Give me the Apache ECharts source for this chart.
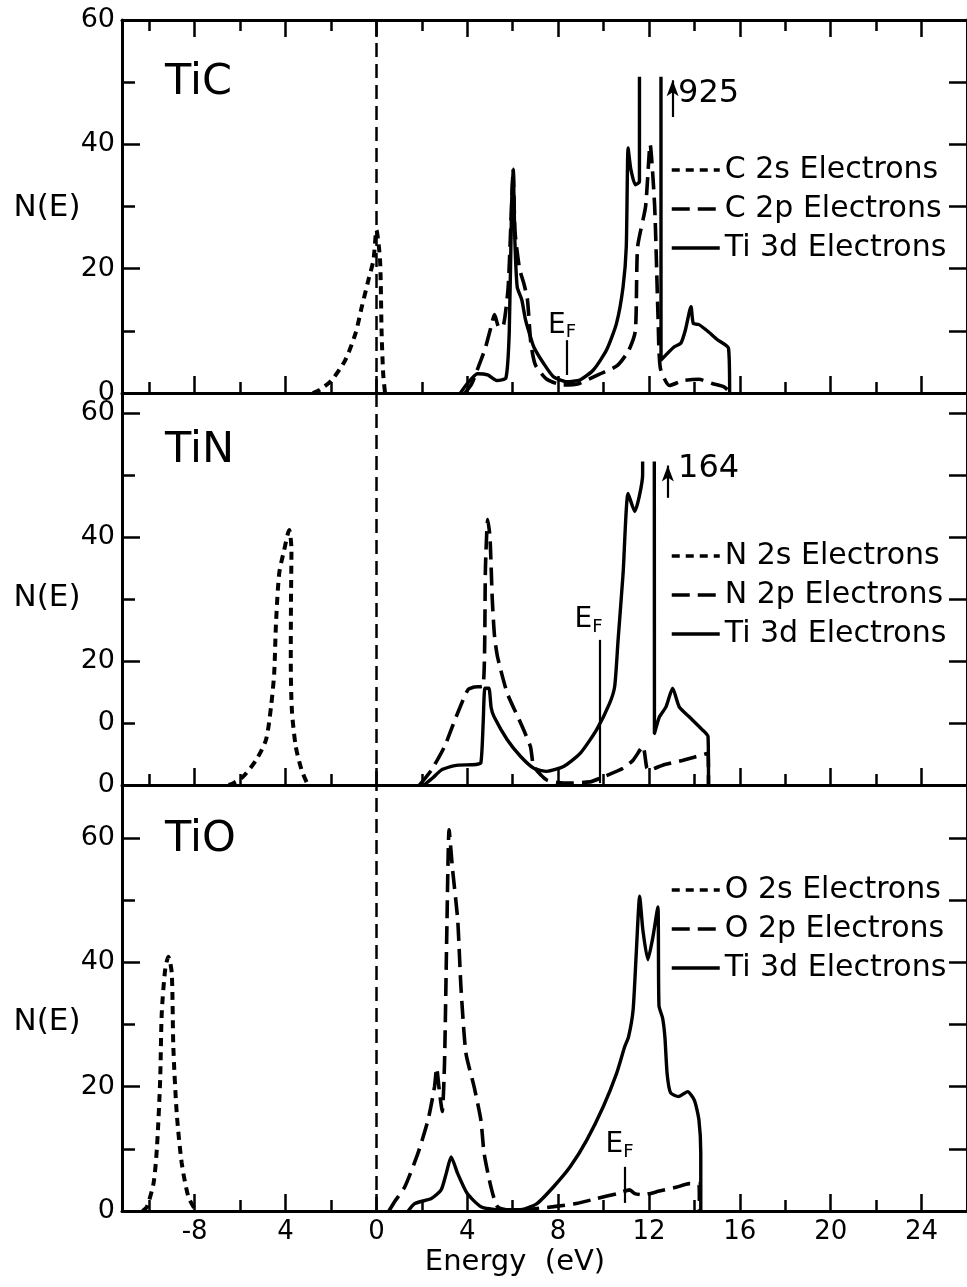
<!DOCTYPE html>
<html>
<head>
<meta charset="utf-8">
<script src="https://cdn.jsdelivr.net/npm/echarts@6/dist/echarts.min.js"></script>
<style>
html, body { margin: 0; padding: 0; background: #fff; }
#chart { width: 967px; height: 1287px; }
</style>
</head>
<body>
<div id="chart"></div>
<script>
// ---- Energy axis (eV) ----
const energyRange = [-11.2, 26];
const energyMajorTicks = [-8, -4, 0, 4, 8, 12, 16, 20, 24];
const energyMinorTicks = [-10, -6, -2, 2, 6, 10, 14, 18, 22];
const energyTickLabels = ['-8', '4', '0', '4', '8', '12', '16', '20', '24'];

// ---- N(E) axis, one entry per panel (TiC, TiN, TiO) ----
const panelNames = ['TiC', 'TiN', 'TiO'];
const panelMaxN = [60, 63.2, 68.5];
const labelValuesN = [[0, 20, 40, 60], [0, 10, 20, 40, 60], [0, 20, 40, 60]];
const labelTextsN = [['0', '20', '40', '60'], ['0', '0', '20', '40', '60'], ['0', '20', '40', '60']];
const majorTicksN = [0, 20, 40, 60];
const minorTicksN = [10, 30, 50];
const sideTicksN = [10, 20, 30, 40, 50, 60];
// height at which the off-scale Ti 3d peaks are cut off
const peakCutN = [50.6, 51.9, 68.5];

// ---- Series names ----
const names2s = ['C 2s Electrons', 'N 2s Electrons', 'O 2s Electrons'];
const names2p = ['C 2p Electrons', 'N 2p Electrons', 'O 2p Electrons'];
const name3d = 'Ti 3d Electrons';

// ---- Off-scale peak heights ----
const peakTiC = 925;
const peakTiN = 164;

// ---- TiC densities of states [energy, N(E)] ----
const tic2s = [[-2.8, 0], [-2.5, 0.5], [-1.96, 2.1], [-1.37, 5.3], [-0.92, 9.6], [-0.64, 13.9], [-0.35, 18.2],
  [-0.13, 21.4], [0.0, 26.2], [0.16, 21.4], [0.23, 9.6], [0.3, 3], [0.38, 0]];
const tic2p = [[3.9, 0], [4.2, 1.5], [4.5, 4.3], [4.8, 7.3], [5.05, 10.7], [5.2, 12.6], [5.4, 10.5], [5.6, 11],
  [5.8, 17], [5.95, 30], [6.02, 36], [6.1, 26], [6.3, 20], [6.5, 17.5], [6.65, 15], [6.8, 8], [7.0, 4.5],
  [7.5, 2.2], [8.2, 1.3], [8.9, 1.5], [9.8, 3.0], [10.6, 4.4], [11.1, 6.8], [11.4, 10], [11.5, 23.5],
  [11.85, 30], [12.05, 40], [12.25, 30], [12.4, 12], [12.5, 4], [12.9, 1.2], [13.5, 2], [14.2, 2.2],
  [14.8, 1.5], [15.3, 1.0], [15.6, 0]];
const tic3d = [[3.7, 0], [4.0, 1.5], [4.45, 3.1], [4.9, 2.9], [5.3, 2.0], [5.7, 2.4], [5.85, 10], [5.95, 30],
  [6.02, 36], [6.1, 24], [6.2, 17], [6.4, 15], [6.55, 12], [6.7, 10], [6.93, 7.4], [7.37, 4.7], [7.8, 2.6],
  [8.38, 1.8], [8.96, 2.1], [9.55, 3.7], [10.13, 6.9], [10.57, 11.2], [10.86, 17.1], [11.0, 23.5],
  [11.08, 39.4], [11.2, 36], [11.4, 33.5], [11.58, 34], [11.62, peakTiC], [12.48, peakTiC], [12.53, 5.3],
  [13.1, 7.4], [13.4, 8], [13.6, 10.1], [13.85, 13.9], [13.95, 11.2], [14.2, 11], [14.6, 9.9], [15.0, 8.6],
  [15.5, 7.2], [15.55, 0]];

// ---- TiN ----
const tin2s = [[-6.5, 0], [-6.3, 0.3], [-5.88, 1.3], [-5.3, 4.0], [-4.86, 7.3], [-4.64, 12.6], [-4.5, 18],
  [-4.42, 26.1], [-4.28, 34.1], [-4.06, 37.9], [-3.84, 41.1], [-3.74, 38], [-3.76, 30], [-3.77, 20],
  [-3.72, 12], [-3.55, 6.2], [-3.3, 2.5], [-3.05, 0.3], [-2.95, 0]];
const tin2p = [[1.9, 0], [2.42, 2.4], [3.0, 6.2], [3.51, 11.0], [4.02, 15.3], [4.3, 15.8], [4.7, 16],
  [4.8, 35], [4.9, 42.8], [5.0, 40], [5.1, 30], [5.2, 24], [5.33, 20.7], [5.76, 14.8], [6.35, 10],
  [6.78, 6.2], [6.93, 3], [7.5, 0.8], [8.24, 0.3], [9.4, 0.5], [9.98, 1.3], [10.86, 2.7], [11.3, 4],
  [11.73, 6.2], [11.9, 2.8], [12.0, 2.4], [12.6, 3.2], [13.5, 4.0], [14.6, 5.1], [14.62, 0]];
const tin3d = [[2.1, 0], [2.5, 1.2], [2.85, 2.4], [3.3, 3.0], [3.6, 3.2], [4.38, 3.3], [4.6, 3.6], [4.7, 10],
  [4.78, 15.6], [4.95, 15.6], [5.05, 12.5], [5.18, 11], [5.76, 7.3], [6.35, 4.6], [6.93, 2.7], [7.5, 2.2],
  [8.24, 3.0], [8.97, 5.1], [9.69, 8.9], [10.27, 13.2], [10.49, 15.9], [10.64, 23.4], [10.86, 34.1],
  [11.08, 47], [11.37, 44.1], [11.72, 50], [11.74, peakTiN], [12.22, peakTiN], [12.24, 8.3], [12.46, 11],
  [12.75, 12.6], [13.04, 15.6], [13.33, 12.6], [13.77, 11], [14.35, 8.9], [14.6, 7.8], [14.62, 0]];

// ---- TiO ----
const tio2s = [[-10.3, 0], [-10.1, 0.7], [-9.81, 4.5], [-9.66, 10.3], [-9.52, 21.1], [-9.45, 31.8],
  [-9.3, 38.8], [-9.16, 40.9], [-9.01, 38.3], [-8.94, 26.4], [-8.79, 15.7], [-8.57, 7.7], [-8.28, 2.3],
  [-7.99, 0.3], [-7.9, 0]];
const tio2p = [[0.55, 0], [0.8, 1.5], [1.25, 3.9], [1.83, 9.3], [2.27, 14.6], [2.56, 20], [2.65, 23],
  [2.78, 19], [2.9, 16], [3.0, 24], [3.1, 45], [3.2, 61.3], [3.35, 55], [3.58, 46.8], [3.72, 36.1],
  [3.94, 25.4], [4.3, 20], [4.6, 14.6], [4.74, 9.3], [5.04, 3.9], [5.33, 0.7], [5.9, 0.1], [6.6, 0.2],
  [7.8, 0.7], [8.8, 1.2], [9.7, 2.0], [10.6, 2.8], [11.15, 3.4], [11.37, 2.8], [11.73, 2.6], [12.46, 3.2],
  [13.19, 3.8], [13.77, 4.4], [14.2, 4.4], [14.22, 0]];
const tio3d = [[1.4, 0], [1.69, 1.2], [2.42, 2.0], [2.85, 3.4], [3.07, 6.0], [3.29, 8.7], [3.58, 6.0],
  [4.0, 2.8], [4.6, 0.7], [5.33, 0.2], [6.35, 0.2], [7.07, 1.2], [7.8, 3.9], [8.53, 7.1], [9.26, 11.4],
  [9.99, 16.8], [10.57, 22.1], [10.93, 26.4], [11.1, 28], [11.3, 32.3], [11.44, 41.5], [11.59, 50.6],
  [11.73, 45.2], [11.95, 40.4], [12.17, 44], [12.39, 48.9], [12.44, 33], [12.6, 31], [12.7, 28], [12.8, 22],
  [12.95, 19], [13.3, 18.4], [13.7, 19.2], [14.0, 17.8], [14.2, 14.6], [14.28, 9.3], [14.28, 0]];

const data2s = [tic2s, tin2s, tio2s];
const data2p = [tic2p, tin2p, tio2p];
const data3d = [tic3d, tin3d, tio3d];

// ---- Fermi level markers ----
const fermiEnergy = [8.38, 9.84, 10.93];
const fermiSpanN = [[2.9, 8.5], [0.3, 23.4], [1.3, 7.1]];
const fermiLabelAt = [[8.17, 10.9], [9.34, 26.6], [10.7, 10.6]];

// ---- Off-scale peak arrows ----
const peakValues = [peakTiC, peakTiN, null];
const peakArrowEnergy = [13.04, 12.83, null];
const peakArrowSpanN = [[44.4, 50.3], [46.3, 51.5], null];
const peakLabelAt = [[13.28, 48.2], [13.28, 51.0], null];

// ---- Layout ----
const FONT = 'DejaVu Sans';
const plotLeft = 122;
const plotWidth = 851;
const panelTop = [20, 393, 785];
const panelBottom = [393, 785, 1211];
const legendTop = [155, 541, 875];

const grids = [], xAxes = [], yAxes = [], series = [], legends = [], graphics = [];
const black = '#000';

function xAxisBase(gridIndex, position) {
  return {
    gridIndex, type: 'value', min: energyRange[0], max: energyRange[1], position,
    splitLine: { show: false }, axisPointer: { show: false }
  };
}

panelNames.forEach((panel, i) => {
  const h = panelBottom[i] - panelTop[i];
  const pxPerN = h / panelMaxN[i];

  const frameGrid = grids.length;
  grids.push({ left: plotLeft, width: plotWidth, top: panelTop[i], height: h });
  const cutH = peakCutN[i] * pxPerN;
  const plotGrid = grids.length;
  grids.push({ left: plotLeft, width: plotWidth, top: panelBottom[i] - cutH, height: cutH });

  // bottom energy axis: long ticks (with labels on the last panel) and short ticks
  const xMain = xAxes.length;
  xAxes.push(Object.assign(xAxisBase(frameGrid, 'bottom'), {
    axisLine: { show: true, onZero: false, lineStyle: { color: black, width: 3 } },
    axisTick: { show: true, inside: true, length: 17, customValues: energyMajorTicks,
      lineStyle: { color: black, width: 2.5 } },
    axisLabel: {
      show: i === 2, customValues: energyMajorTicks, margin: 8,
      formatter: v => energyTickLabels[energyMajorTicks.indexOf(v)],
      color: black, fontSize: 26, fontFamily: FONT
    }
  }));
  xAxes.push(Object.assign(xAxisBase(frameGrid, 'bottom'), {
    axisLine: { show: false, onZero: false },
    axisTick: { show: true, inside: true, length: 11, customValues: energyMinorTicks,
      lineStyle: { color: black, width: 2.5 } },
    axisLabel: { show: false }
  }));
  if (i === 0) {
    xAxes.push(Object.assign(xAxisBase(frameGrid, 'top'), {
      axisLine: { show: true, onZero: false, lineStyle: { color: black, width: 3 } },
      axisTick: { show: true, inside: true, length: 17, customValues: energyMajorTicks,
        lineStyle: { color: black, width: 2.5 } },
      axisLabel: { show: false }
    }));
    xAxes.push(Object.assign(xAxisBase(frameGrid, 'top'), {
      axisLine: { show: false, onZero: false },
      axisTick: { show: true, inside: true, length: 11, customValues: energyMinorTicks,
        lineStyle: { color: black, width: 2.5 } },
      axisLabel: { show: false }
    }));
  }
  const xPlot = xAxes.length;
  xAxes.push(Object.assign(xAxisBase(plotGrid, 'bottom'), { show: false }));

  // N(E) axes
  const yMain = yAxes.length;
  const labelVals = labelValuesN[i], labelTxt = labelTextsN[i];
  yAxes.push({
    gridIndex: frameGrid, type: 'value', min: 0, max: panelMaxN[i], position: 'left',
    splitLine: { show: false },
    axisLine: { show: true, onZero: false, lineStyle: { color: black, width: 3 } },
    axisTick: { show: true, inside: true, length: 18, customValues: majorTicksN,
      lineStyle: { color: black, width: 2.5 } },
    axisLabel: {
      customValues: labelVals, margin: 7,
      formatter: v => labelTxt[labelVals.indexOf(v)],
      color: black, fontSize: 27, fontFamily: FONT
    }
  });
  yAxes.push({
    gridIndex: frameGrid, type: 'value', min: 0, max: panelMaxN[i], position: 'left',
    splitLine: { show: false },
    axisLine: { show: false, onZero: false },
    axisTick: { show: true, inside: true, length: 13, customValues: minorTicksN,
      lineStyle: { color: black, width: 2.5 } },
    axisLabel: { show: false }
  });
  yAxes.push({
    gridIndex: frameGrid, type: 'value', min: 0, max: panelMaxN[i], position: 'right',
    splitLine: { show: false },
    axisLine: { show: true, onZero: false, lineStyle: { color: black, width: 3 } },
    axisTick: { show: true, inside: true, length: 18,
      customValues: sideTicksN.filter(v => v < panelMaxN[i]),
      lineStyle: { color: black, width: 2.5 } },
    axisLabel: { show: false }
  });
  const yPlot = yAxes.length;
  yAxes.push({ gridIndex: plotGrid, type: 'value', min: 0, max: peakCutN[i], show: false,
    splitLine: { show: false } });

  // 2s electrons (short dashes) + zero-energy reference line
  series.push({
    type: 'line', name: names2s[i], xAxisIndex: xMain, yAxisIndex: yMain,
    data: data2s[i], symbol: 'none', color: black, silent: true, smooth: 0.25,
    lineStyle: { color: black, width: 4, type: [8, 6] },
    markLine: {
      silent: true, symbol: ['none', 'none'], label: { show: false },
      lineStyle: { color: black, width: 2.5, type: [14, 7] },
      emphasis: { disabled: true },
      data: [{ xAxis: 0 }]
    }
  });

  // 2p electrons (long dashes) + Fermi level and off-scale peak annotations
  const lines = [[
    { coord: [fermiEnergy[i], fermiSpanN[i][0]] },
    { coord: [fermiEnergy[i], fermiSpanN[i][1]] }
  ]];
  const points = [{
    coord: fermiLabelAt[i],
    label: {
      show: true, position: 'inside', formatter: '{e|E}{f|F}',
      rich: {
        e: { fontSize: 28, fontFamily: FONT, color: black, lineHeight: 34 },
        f: { fontSize: 18, fontFamily: FONT, color: black, lineHeight: 34, padding: [14, 0, 0, 0] }
      }
    }
  }];
  if (peakValues[i] !== null) {
    lines.push([
      { coord: [peakArrowEnergy[i], peakArrowSpanN[i][0]] },
      { coord: [peakArrowEnergy[i], peakArrowSpanN[i][1]], symbol: 'arrow', symbolSize: [9, 16] }
    ]);
    points.push({
      coord: peakLabelAt[i],
      label: { show: true, position: 'right', distance: 0, formatter: String(peakValues[i]),
        fontSize: 32, fontFamily: FONT, color: black }
    });
  }
  series.push({
    type: 'line', name: names2p[i], xAxisIndex: xMain, yAxisIndex: yMain,
    data: data2p[i], symbol: 'none', color: black, silent: true, smooth: 0.2,
    lineStyle: { color: black, width: 3.6, type: [18, 8] },
    markLine: {
      silent: true, symbol: ['none', 'none'], label: { show: false },
      lineStyle: { color: black, width: 2.2, type: 'solid' },
      emphasis: { disabled: true },
      data: lines
    },
    markPoint: {
      silent: true, symbol: 'circle', symbolSize: 0,
      itemStyle: { color: 'rgba(0,0,0,0)' },
      emphasis: { disabled: true },
      data: points
    }
  });

  // Ti 3d electrons (solid), cut at the top of the drawn peaks
  series.push({
    type: 'line', name: name3d, xAxisIndex: xPlot, yAxisIndex: yPlot,
    data: data3d[i], symbol: 'none', color: black, silent: true, clip: true, smooth: 0.2,
    lineStyle: { color: black, width: 3.4, type: 'solid' }
  });

  legends.push({
    data: [names2s[i], names2p[i], name3d],
    orient: 'vertical', left: 670, top: legendTop[i], padding: 0,
    itemWidth: 48, itemHeight: 14, itemGap: 9, selectedMode: false,
    itemStyle: { opacity: 0 },
    lineStyle: { width: 3.5 },
    textStyle: { color: black, fontSize: 30, fontFamily: FONT, lineHeight: 30 }
  });

  graphics.push({
    type: 'text', x: 165, y: [83, 451, 840][i],
    style: { text: panel, font: '43px "DejaVu Sans"', fill: black, align: 'left', verticalAlign: 'middle' }
  });
  graphics.push({
    type: 'text', x: 47, y: [208, 598, 1022][i],
    style: { text: 'N(E)', font: '31px "DejaVu Sans"', fill: black, align: 'center', verticalAlign: 'middle' }
  });
});

graphics.push({
  type: 'text', x: 515, y: 1262,
  style: { text: 'Energy  (eV)', font: '29px "DejaVu Sans"', fill: black, align: 'center', verticalAlign: 'middle' }
});

const chart = echarts.init(document.getElementById('chart'), null, { renderer: 'canvas' });
chart.setOption({
  backgroundColor: '#fff',
  animation: false,
  textStyle: { fontFamily: FONT },
  grid: grids,
  xAxis: xAxes,
  yAxis: yAxes,
  legend: legends,
  tooltip: { show: false },
  series: series,
  graphic: graphics
});
</script>
</body>
</html>
